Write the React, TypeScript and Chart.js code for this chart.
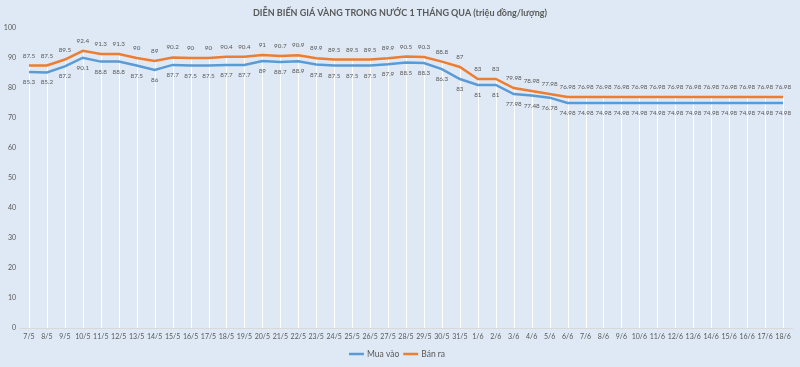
import { useEffect, useRef } from 'react';
import { Chart, registerables } from 'chart.js';
Chart.register(...registerables);

const categories = [
  '7/5', '8/5', '9/5', '10/5', '11/5', '12/5', '13/5', '14/5', '15/5', '16/5', '17/5', '18/5', '19/5', '20/5',
  '21/5', '22/5', '23/5', '24/5', '25/5', '26/5', '27/5', '28/5', '29/5', '30/5', '31/5',
  '1/6', '2/6', '3/6', '4/6', '5/6', '6/6', '7/6', '8/6', '9/6', '10/6', '11/6', '12/6', '13/6', '14/6',
  '15/6', '16/6', '17/6', '18/6',
];

const muaVao = [
  85.3, 85.2, 87.2, 90.1, 88.8, 88.8, 87.5, 86, 87.7, 87.5, 87.5, 87.7, 87.7, 89,
  88.7, 88.9, 87.8, 87.5, 87.5, 87.5, 87.9, 88.5, 88.3, 86.3, 83,
  81, 81, 77.98, 77.48, 76.78, 74.98, 74.98, 74.98, 74.98, 74.98, 74.98, 74.98, 74.98, 74.98,
  74.98, 74.98, 74.98, 74.98,
];

const banRa = [
  87.5, 87.5, 89.5, 92.4, 91.3, 91.3, 90, 89, 90.2, 90, 90, 90.4, 90.4, 91,
  90.7, 90.9, 89.9, 89.5, 89.5, 89.5, 89.9, 90.5, 90.3, 88.8, 87,
  83, 83, 79.98, 78.98, 77.98, 76.98, 76.98, 76.98, 76.98, 76.98, 76.98, 76.98, 76.98, 76.98,
  76.98, 76.98, 76.98, 76.98,
];

const titleText = 'DIỄN BIẾN GIÁ VÀNG TRONG NƯỚC 1 THÁNG QUA (triệu đồng/lượng)';
const seriesNames = ['Mua vào', 'Bán ra'];
const seriesColors = ['#5b9bd5', '#ed7d31'];

const FONT = 'Lato, "Open Sans", sans-serif';
const TEXT = '#595959';
const BG = '#dee9f5';

const bgPlugin = {
  id: 'bg',
  beforeDraw(chart: any) {
    const { ctx, width, height } = chart;
    ctx.save();
    ctx.fillStyle = BG;
    ctx.fillRect(0, 0, width, height);
    ctx.restore();
  },
};

const dropLines = {
  id: 'dropLines',
  beforeDatasetsDraw(chart: any) {
    const { ctx, chartArea } = chart;
    const top = chart.getDatasetMeta(1).data;
    const low = chart.getDatasetMeta(0).data;
    ctx.save();
    ctx.strokeStyle = '#ffffff';
    ctx.lineWidth = 1;
    for (let i = 0; i < top.length; i++) {
      const x = Math.round(top[i].x) + 0.5;
      const y = Math.min(top[i].y, low[i].y);
      ctx.beginPath();
      ctx.moveTo(x, y);
      ctx.lineTo(x, chartArea.bottom);
      ctx.stroke();
    }
    ctx.restore();
  },
};

const dataLabels = {
  id: 'dataLabels',
  afterDatasetsDraw(chart: any) {
    const { ctx } = chart;
    ctx.save();
    ctx.font = `6.3px ${FONT}`;
    ctx.fillStyle = TEXT;
    ctx.textAlign = 'center';
    ctx.textBaseline = 'middle';
    chart.data.datasets.forEach((ds: any, di: number) => {
      const meta = chart.getDatasetMeta(di);
      const off = di === 1 ? -10 : 10;
      meta.data.forEach((el: any, i: number) => {
        ctx.fillText(String(ds.data[i]), el.x, el.y + off);
      });
    });
    ctx.restore();
  },
};

const titleLegend = {
  id: 'titleLegend',
  afterDraw(chart: any) {
    const { ctx } = chart;
    ctx.save();
    ctx.fillStyle = TEXT;
    ctx.textBaseline = 'middle';
    ctx.textAlign = 'center';
    ctx.font = `bold 9px ${FONT}`;
    ctx.fillText(titleText, 400, 13);

    ctx.font = `8.5px ${FONT}`;
    ctx.textAlign = 'left';
    const gap = 3;
    const lineLen = 15;
    const spacing = 4;
    const widths = seriesNames.map((n) => ctx.measureText(n).width);
    const total = widths.reduce((a, w) => a + lineLen + gap + w, 0) + spacing;
    let x = 397 - total / 2;
    const y = 354;
    seriesNames.forEach((n, i) => {
      ctx.strokeStyle = seriesColors[i];
      ctx.lineWidth = 2.5;
      ctx.beginPath();
      ctx.moveTo(x, y);
      ctx.lineTo(x + lineLen, y);
      ctx.stroke();
      ctx.fillText(n, x + lineLen + gap, y + 0.5);
      x += lineLen + gap + widths[i] + spacing;
    });
    ctx.restore();
  },
};

export default function App() {
  const ref = useRef<HTMLCanvasElement>(null);
  useEffect(() => {
    document.body.style.margin = '0';
    const chart = new Chart(ref.current!, {
      type: 'line',
      data: {
        labels: categories,
        datasets: [
          {
            label: seriesNames[0],
            data: muaVao,
            borderColor: seriesColors[0],
            backgroundColor: seriesColors[0],
            borderWidth: 2.5,
            pointRadius: 0,
            tension: 0,
          },
          {
            label: seriesNames[1],
            data: banRa,
            borderColor: seriesColors[1],
            backgroundColor: seriesColors[1],
            borderWidth: 2.5,
            pointRadius: 0,
            tension: 0,
          },
        ],
      },
      options: {
        animation: false,
        responsive: false,
        maintainAspectRatio: false,
        layout: { padding: { top: 28, right: 8, left: 0, bottom: 0 } },
        plugins: {
          legend: { display: false },
          title: { display: false },
          tooltip: { enabled: false },
        },
        scales: {
          x: {
            offset: true,
            grid: { display: false, drawTicks: false },
            border: { display: true, color: '#d9d9d9', width: 1 },
            ticks: {
              color: TEXT,
              font: { family: FONT, size: 7 },
              maxRotation: 0,
              autoSkip: false,
              padding: 5,
            },
            afterFit: (s: any) => {
              s.height = 39;
            },
          },
          y: {
            min: 0,
            max: 100,
            grid: { display: false, drawTicks: false },
            border: { display: false },
            ticks: {
              stepSize: 10,
              color: TEXT,
              font: { family: FONT, size: 7 },
              padding: 4,
            },
            afterFit: (s: any) => {
              s.width = 20;
            },
          },
        },
      },
      plugins: [bgPlugin, dropLines, dataLabels, titleLegend],
    });
    return () => chart.destroy();
  }, []);
  return <canvas ref={ref} width={800} height={367} style={{ display: 'block' }} />;
}
